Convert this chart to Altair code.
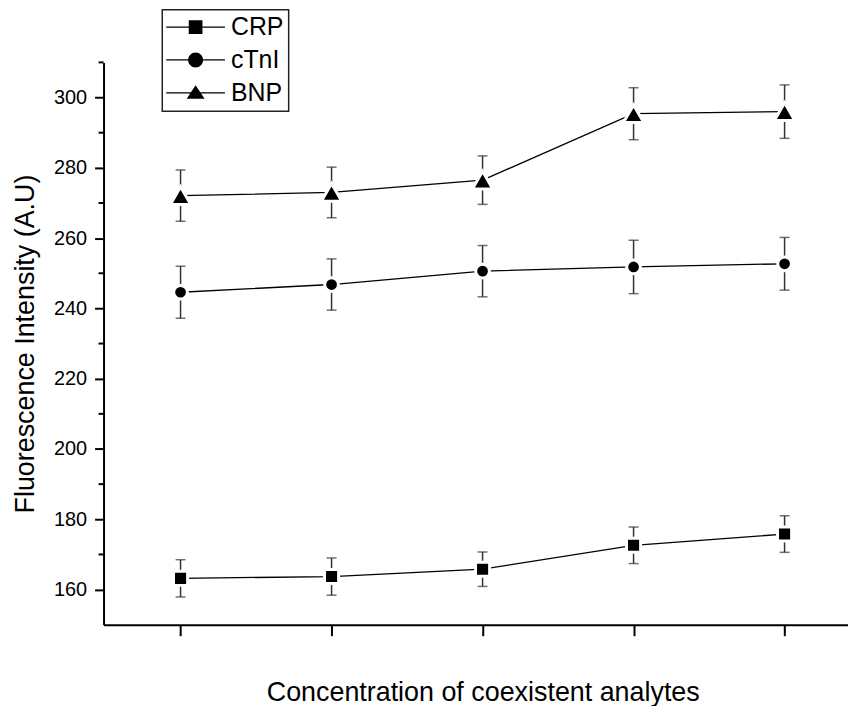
import altair as alt
import pandas as pd

# ---- data ----
x_pos = [1, 2, 3, 4, 5]
series_names = ["CRP", "cTnI", "BNP"]
crp = [163.2, 163.7, 165.8, 172.6, 175.8]
crp_err = [5.3, 5.3, 4.9, 5.2, 5.2]
ctni = [244.6, 246.8, 250.6, 251.8, 252.7]
ctni_err = [7.4, 7.3, 7.3, 7.6, 7.5]
bnp = [272.1, 273.0, 276.5, 295.4, 296.0]
bnp_err = [7.3, 7.2, 6.9, 7.4, 7.6]
y_major = list(range(160, 301, 20))
y_minor = list(range(170, 311, 20))

rows = []
for name, vals, errs in zip(series_names, [crp, ctni, bnp], [crp_err, ctni_err, bnp_err]):
    for x, v, e in zip(x_pos, vals, errs):
        rows.append({"series": name, "x": x, "y": v, "lo": v - e, "hi": v + e})
df = pd.DataFrame(rows)
minor_df = pd.DataFrame({"v": y_minor})

FONT = "Liberation Sans"

xscale = alt.Scale(domain=[0.49, 5.42], nice=False, zero=False)
yscale = alt.Scale(domain=[150, 310], nice=False, zero=False)

xaxis = alt.Axis(values=x_pos, labels=False, grid=False, tickSize=11,
                 title="Concentration of coexistent analytes",
                 titlePadding=43, titleX=381)
yaxis = alt.Axis(values=y_major, grid=False, tickSize=9, labelPadding=8,
                 title="Fluorescence Intensity (A.U)", titlePadding=14)

base = alt.Chart(df)

rules = base.mark_rule(color="#333333", strokeWidth=1.5).encode(
    x=alt.X("x:Q", scale=xscale, axis=xaxis),
    y=alt.Y("lo:Q", scale=yscale, axis=yaxis),
    y2="hi:Q",
)
caps_lo = base.mark_tick(orient="horizontal", color="#333333", size=10, thickness=1.5).encode(
    x=alt.X("x:Q", scale=xscale), y=alt.Y("lo:Q", scale=yscale))
caps_hi = base.mark_tick(orient="horizontal", color="#333333", size=10, thickness=1.5).encode(
    x=alt.X("x:Q", scale=xscale), y=alt.Y("hi:Q", scale=yscale))

# minor ticks on the y axis (every 10 between the labelled ones)
minor = alt.Chart(minor_df).mark_rule(color="black", strokeWidth=2).encode(
    y=alt.Y("v:Q", scale=yscale), x=alt.value(-5), x2=alt.value(0))

lines = base.mark_line(color="black", strokeWidth=1.3).encode(
    x=alt.X("x:Q", scale=xscale), y=alt.Y("y:Q", scale=yscale), detail="series:N")

marker_shapes = {"CRP": ("square", 200), "cTnI": ("circle", 190), "BNP": ("triangle-up", 420)}
point_layers = []
for name in series_names:
    shp, sz = marker_shapes[name]
    point_layers.append(
        base.transform_filter(alt.datum.series == name).mark_point(
            filled=True, fill="black", stroke="white", strokeWidth=3, size=sz,
            shape=shp, opacity=1,
        ).encode(x=alt.X("x:Q", scale=xscale), y=alt.Y("y:Q", scale=yscale))
    )

# ---- legend symbols: "line — marker — line", all drawn as filled paths ----
BAR = "M-2.36,-0.05H2.36V0.05H-2.36Z"
legend_paths = [
    BAR + "M-0.55,-0.55H0.55V0.55H-0.55Z",
    BAR + "M0.6,0A0.6,0.6,0,1,1,-0.6,0A0.6,0.6,0,1,1,0.6,0Z",
    BAR + "M0,-0.6L0.72,0.48L-0.72,0.48Z",
]

legend = alt.Legend(
    orient="none", legendX=59, legendY=-53, direction="vertical",
    labelFont=FONT, labelFontSize=25, labelColor="black",
    labelOffset=23, symbolOffset=16,
    symbolSize=625, symbolFillColor="black", symbolStrokeColor="black",
    symbolStrokeWidth=0, symbolOpacity=1,
    padding=5, rowPadding=7, strokeColor="#222222", fillColor="white",
)
legend_layer = base.mark_point(filled=True, color="black", size=625).encode(
    x=alt.X("x:Q", scale=xscale), y=alt.Y("y:Q", scale=yscale),
    shape=alt.Shape("series:N", title=None,
                    scale=alt.Scale(domain=series_names, range=legend_paths),
                    legend=legend),
).transform_filter("false")

chart = alt.layer(rules, caps_lo, caps_hi, minor, lines, *point_layers, legend_layer).properties(
    width=748, height=565,
    autosize=alt.AutoSizeParams(type="none"),
    padding={"left": 96, "top": 53, "right": 0, "bottom": 80},
).configure_view(stroke=None).configure_axis(
    domainColor="black", domainWidth=2, tickColor="black", tickWidth=2,
    labelFont=FONT, labelFontSize=20, labelColor="black",
    titleFont=FONT, titleFontSize=27, titleFontWeight="normal", titleColor="black",
).configure_legend(strokeWidth=1.5)

chart.save("out.html", embed_options={"renderer": "svg", "actions": False})
